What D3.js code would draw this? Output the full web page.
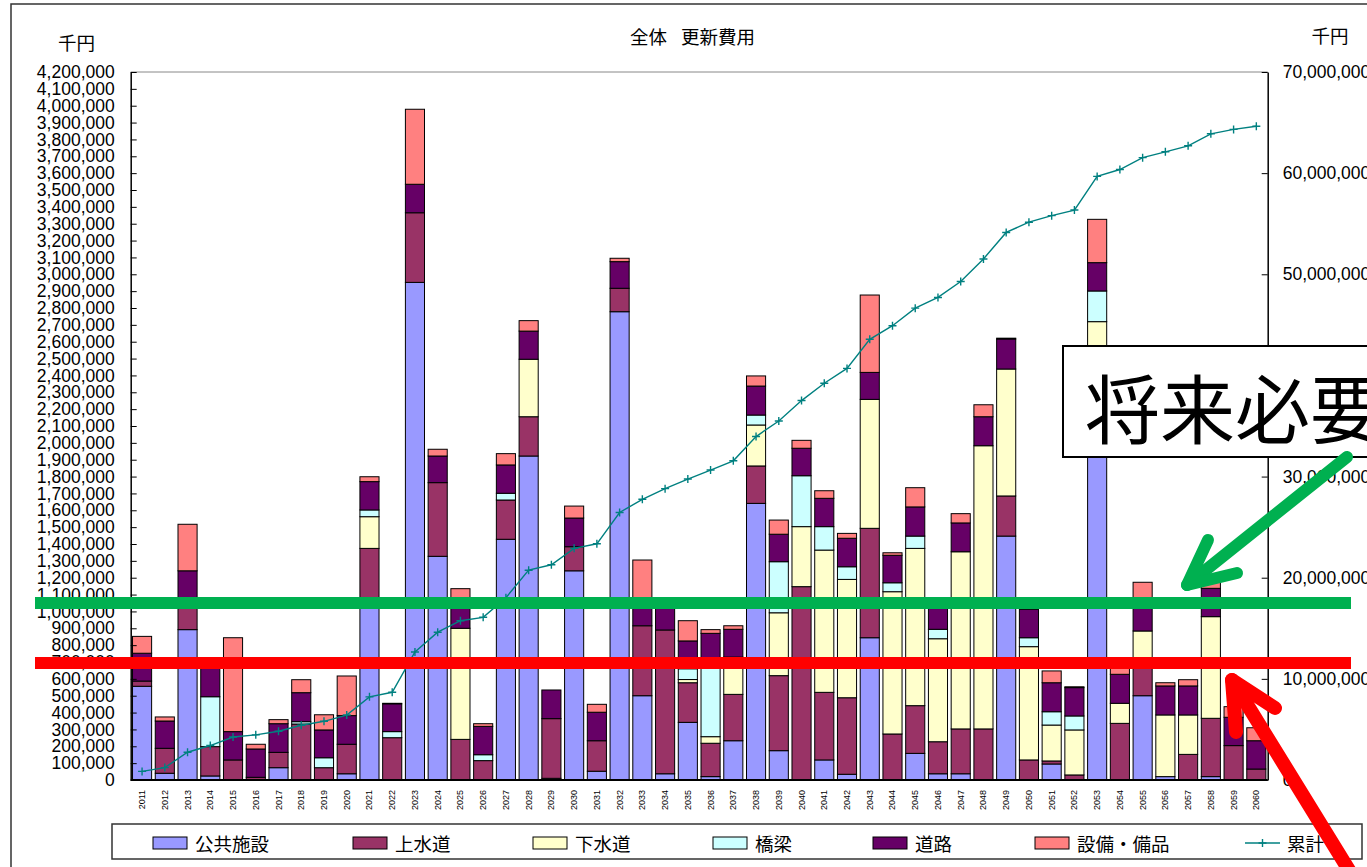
<!DOCTYPE html>
<html>
<head>
<meta charset="utf-8">
<script src="https://cdn.jsdelivr.net/npm/d3@7"></script>
<style>
  html, body { margin: 0; padding: 0; background: #fff; }
  svg { display: block; font-family: "Liberation Sans", Arial, "Noto Sans CJK JP", sans-serif; }
  .jp { font-family: "Noto Sans CJK JP", "Noto Sans CJK SC", sans-serif; }
</style>
</head>
<body>
<svg id="chart" width="1367" height="867"></svg>
<script>
// ---- data (千円) ----
const years = [2011,2012,2013,2014,2015,2016,2017,2018,2019,2020,
               2021,2022,2023,2024,2025,2026,2027,2028,2029,2030,
               2031,2032,2033,2034,2035,2036,2037,2038,2039,2040,
               2041,2042,2043,2044,2045,2046,2047,2048,2049,2050,
               2051,2052,2053,2054,2055,2056,2057,2058,2059,2060];

const seriesNames = ["公共施設", "上水道", "下水道", "橋梁", "道路", "設備・備品"];

const koukyouShisetsu = [556000,40000,892000,24000,0,0,73000,0,0,37000,
                         1040000,0,2952000,1327000,0,0,1428000,1922000,10000,1241000,
                         52000,2778000,500000,37000,342000,20000,233000,1641000,174000,0,
                         119000,34000,844000,0,158000,37000,37000,0,1447000,0,
                         95000,0,2150000,0,500000,20000,0,20000,0,0];

const jousuidou = [31000,148000,184000,174000,119000,16000,91000,332000,73000,175000,
                   334000,251000,413000,437000,241000,115000,233000,233000,354000,143000,
                   181000,139000,415000,853000,235000,198000,275000,222000,445000,1147000,
                   401000,454000,649000,273000,283000,190000,266000,303000,238000,119000,
                   18000,30000,270000,336000,194000,0,152000,346000,204000,65000];

const gesuidou = [0,0,0,0,0,0,0,0,0,0,
                  188000,0,0,0,659000,0,0,341000,0,0,
                  0,0,0,0,19000,39000,221000,243000,373000,356000,
                  844000,702000,765000,844000,933000,611000,1051000,1680000,753000,672000,
                  213000,267000,299000,119000,190000,366000,234000,603000,0,0];

const kyouryou = [0,0,0,296000,0,0,0,14000,59000,0,
                  40000,36000,0,0,0,35000,40000,0,0,0,
                  0,0,0,0,64000,448000,0,59000,303000,302000,
                  139000,75000,0,53000,73000,56000,0,0,0,53000,
                  79000,83000,182000,0,0,0,0,0,0,0];

const douro = [165000,162000,165000,170000,168000,168000,170000,172000,165000,170000,
               168000,165000,169000,158000,165000,168000,168000,167000,170000,170000,
               169000,158000,165000,165000,165000,165000,165000,172000,163000,163000,
               168000,169000,160000,163000,173000,165000,171000,172000,178000,168000,
               172000,168000,168000,172000,165000,172000,172000,168000,168000,168000];

const setsubiBihin = [100000,24000,276000,0,557000,28000,24000,77000,90000,235000,
                      29000,3000,445000,40000,70000,16000,67000,62000,0,71000,
                      47000,20000,225000,0,120000,22000,21000,60000,84000,47000,
                      45000,29000,459000,15000,114000,0,55000,71000,5000,0,
                      70000,5000,257000,55000,124000,19000,37000,49000,63000,77000];

const leftTicks = d3.range(0, 4200001, 100000);
const rightTicks = [0, 10000000, 20000000, 30000000, 40000000, 50000000, 60000000, 70000000];

// reference levels marked across the chart
const greenLevel = 1050000;
const redLevel = 694000;

const colors = ["#9999FF", "#993366", "#FFFFCC", "#CCFFFF", "#660066", "#FF8080"];
const lineColor = "#008080";

// ---- table for the stack ----
const seriesArrays = [koukyouShisetsu, jousuidou, gesuidou, kyouryou, douro, setsubiBihin];
const rows = years.map((y, i) => {
  const r = { year: y };
  seriesNames.forEach((k, j) => r[k] = seriesArrays[j][i]);
  return r;
});
const totals = rows.map(r => d3.sum(seriesNames, k => r[k]));
const cumulative = Array.from(d3.cumsum(totals));

// ---- layout ----
const W = 1367, H = 867;
const plot = { left: 130.7, right: 1267.7, top: 72, bottom: 780 };

const svg = d3.select("#chart");
svg.append("rect").attr("width", W).attr("height", H).attr("fill", "#fff");

// outer chart frame
svg.append("rect")
  .attr("x", 11).attr("y", 4).attr("width", 1400).attr("height", 900)
  .attr("fill", "none").attr("stroke", "#333").attr("stroke-width", 1.5);

const x = d3.scaleBand().domain(years).range([plot.left, plot.right])
  .paddingInner(0.16).paddingOuter(0.08);
const yL = d3.scaleLinear().domain([0, 4200000]).range([plot.bottom, plot.top]);
const yR = d3.scaleLinear().domain([0, 70000000]).range([plot.bottom, plot.top]);

// title and unit labels
svg.append("text").attr("class", "jp").attr("x", 630).attr("y", 36)
  .attr("dominant-baseline", "central").attr("font-size", 18.5).text("全体");
svg.append("text").attr("class", "jp").attr("x", 681).attr("y", 36)
  .attr("dominant-baseline", "central").attr("font-size", 18.5).text("更新費用");
svg.append("text").attr("class", "jp").attr("x", 76.5).attr("y", 42)
  .attr("text-anchor", "middle").attr("dominant-baseline", "central")
  .attr("font-size", 18.5).text("千円");
svg.append("text").attr("class", "jp").attr("x", 1330).attr("y", 35)
  .attr("text-anchor", "middle").attr("dominant-baseline", "central")
  .attr("font-size", 18.5).text("千円");

// top border of the plot area
svg.append("line").attr("x1", plot.left).attr("x2", plot.right)
  .attr("y1", plot.top).attr("y2", plot.top).attr("stroke", "#888").attr("stroke-width", 1);

// ---- stacked bars ----
const stacked = d3.stack().keys(seriesNames)(rows);
const gBars = svg.append("g");
stacked.forEach((layer, j) => {
  gBars.append("g").attr("fill", colors[j])
    .selectAll("rect").data(layer.filter(d => d[1] - d[0] > 0)).join("rect")
    .attr("x", d => x(d.data.year))
    .attr("width", x.bandwidth())
    .attr("y", d => yL(d[1]))
    .attr("height", d => yL(d[0]) - yL(d[1]))
    .attr("stroke", "#000").attr("stroke-width", 1);
});

// ---- axes ----
const axisLeft = d3.axisLeft(yL).tickValues(leftTicks)
  .tickFormat(d3.format(",")).tickSizeInner(-6).tickSizeOuter(0).tickPadding(16);
const gL = svg.append("g").attr("transform", `translate(${plot.left},0)`).call(axisLeft);
gL.selectAll("text").attr("font-size", 17.5).attr("fill", "#000")
  .style("font-family", '"Liberation Sans", Arial, sans-serif');
gL.select(".domain").attr("stroke", "#000").attr("stroke-width", 1.5);
gL.selectAll(".tick line").attr("stroke", "#000");

const axisRight = d3.axisRight(yR).tickValues(rightTicks)
  .tickFormat(d3.format(",")).tickSizeInner(-6).tickSizeOuter(0).tickPadding(15);
const gR = svg.append("g").attr("transform", `translate(${plot.right},0)`).call(axisRight);
gR.selectAll("text").attr("font-size", 17.5).attr("fill", "#000")
  .style("font-family", '"Liberation Sans", Arial, sans-serif');
gR.select(".domain").attr("stroke", "#000").attr("stroke-width", 1.5);
gR.selectAll(".tick line").attr("stroke", "#000");

// category axis
svg.append("line").attr("x1", plot.left).attr("x2", plot.right)
  .attr("y1", plot.bottom).attr("y2", plot.bottom).attr("stroke", "#000").attr("stroke-width", 2);
svg.append("g").selectAll("text").data(years).join("text")
  .attr("transform", d => `translate(${x(d) + x.bandwidth() / 2},790) rotate(-90)`)
  .attr("text-anchor", "end").attr("dominant-baseline", "central")
  .attr("font-size", 9).text(d => d);

// ---- cumulative line ----
const cx = d => x(d) + x.bandwidth() / 2;
const line = d3.line().x((d, i) => cx(years[i])).y(d => yR(d));
svg.append("path").datum(cumulative).attr("d", line)
  .attr("fill", "none").attr("stroke", lineColor).attr("stroke-width", 1.4);
svg.append("g").selectAll("path").data(cumulative).join("path")
  .attr("transform", (d, i) => `translate(${cx(years[i])},${yR(d)})`)
  .attr("d", "M-4,0H4M0,-4V4")
  .attr("stroke", lineColor).attr("stroke-width", 1.4);

// ---- legend ----
const legendX = [153, 353, 533, 713, 873, 1035, 1245];
const legendY = 843;
svg.append("rect").attr("x", 112).attr("y", 824).attr("width", 1250).attr("height", 35)
  .attr("fill", "#fff").attr("stroke", "#333").attr("stroke-width", 1.5);
const gLeg = svg.append("g");
seriesNames.forEach((name, j) => {
  gLeg.append("rect").attr("x", legendX[j]).attr("y", legendY - 6)
    .attr("width", 34).attr("height", 12)
    .attr("fill", colors[j]).attr("stroke", "#000").attr("stroke-width", 1);
  gLeg.append("text").attr("class", "jp").attr("x", legendX[j] + 42).attr("y", legendY)
    .attr("dominant-baseline", "central").attr("font-size", 18.5).text(name);
});
const lx = legendX[6];
gLeg.append("line").attr("x1", lx).attr("x2", lx + 35).attr("y1", legendY).attr("y2", legendY)
  .attr("stroke", lineColor).attr("stroke-width", 1.4);
gLeg.append("path").attr("transform", `translate(${lx + 17.5},${legendY})`)
  .attr("d", "M-4,0H4M0,-4V4").attr("stroke", lineColor).attr("stroke-width", 1.4);
gLeg.append("text").attr("class", "jp").attr("x", lx + 42).attr("y", legendY)
  .attr("dominant-baseline", "central").attr("font-size", 18.5).text("累計");

// ---- annotation: level lines, callout and arrows ----
svg.append("line").attr("x1", 35).attr("x2", 1351)
  .attr("y1", yL(greenLevel)).attr("y2", yL(greenLevel))
  .attr("stroke", "#00B050").attr("stroke-width", 12);
svg.append("line").attr("x1", 35).attr("x2", 1351)
  .attr("y1", yL(redLevel)).attr("y2", yL(redLevel))
  .attr("stroke", "#FF0000").attr("stroke-width", 12);

svg.append("rect").attr("x", 1063).attr("y", 346).attr("width", 400).attr("height", 111)
  .attr("fill", "#fff").attr("stroke", "#000").attr("stroke-width", 2);
svg.append("text").attr("class", "jp").attr("x", 1085).attr("y", 405)
  .attr("dominant-baseline", "central").attr("font-size", 75).text("将来必要な更新費用");

const arrow = (pts, color, w) => svg.append("path")
  .attr("d", d3.line()(pts)).attr("fill", "none").attr("stroke", color)
  .attr("stroke-width", w).attr("stroke-linecap", "round").attr("stroke-linejoin", "round");
arrow([[1347, 457], [1187, 585]], "#00B050", 12);
arrow([[1208, 540], [1187, 585], [1237, 573]], "#00B050", 12);
arrow([[1352, 875], [1232, 680]], "#FF0000", 14);
arrow([[1236, 732], [1232, 680], [1275, 708]], "#FF0000", 14);
</script>
</body>
</html>
